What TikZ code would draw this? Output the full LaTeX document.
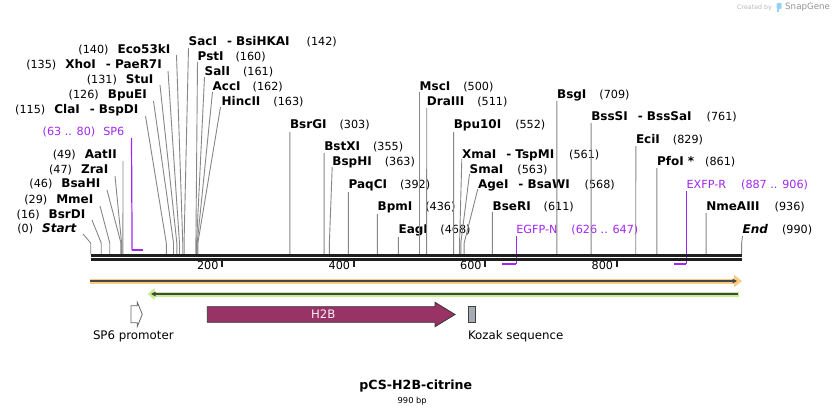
\documentclass[tikz,border=0pt]{standalone}
\usepackage{fontspec}
\setmainfont{DejaVu Sans}
\usetikzlibrary{arrows.meta}
\definecolor{sitegray}{RGB}{135,135,135}
\definecolor{primerpurple}{RGB}{160,40,240}
\definecolor{h2bfill}{RGB}{153,51,102}
\definecolor{orangeband}{RGB}{250,204,130}
\definecolor{greenband}{RGB}{196,240,145}
\definecolor{bandline}{RGB}{70,70,70}
\definecolor{kozakgray}{RGB}{166,171,178}
\definecolor{iconblue}{RGB}{150,210,245}
\newcommand{\enz}[1]{{\fontsize{12}{14}\selectfont\bfseries #1}}

\begin{document}
\begin{tikzpicture}[x=1pt,y=-1pt,
  lab/.style={inner sep=0pt,font=\fontsize{11.2}{13}\selectfont,text height=8.5pt,text depth=2.2pt},
  cut/.style={draw=sitegray,line width=0.9pt},
  primer/.style={draw=primerpurple,line width=1.2pt},
  primerbar/.style={draw=primerpurple,line width=2.2pt},
  featlab/.style={inner sep=0pt,anchor=west,font=\fontsize{11.8}{14}\selectfont}]
\useasboundingbox (0,0) rectangle (834,417);
\fill[white] (0,0) rectangle (834,417);

% cut sites, just above the sequence
\foreach \p in {0,16,29,46,47,49,115,126,131,135,140,142,160,161,162,163,303,355,363,392,436,468,500,511,552,561,563,568,611,709,761,829,861,936,990}
  \coordinate (c\p) at ({90.7+0.6575*\p},243);
\coordinate (p63) at (132.1,250);
\coordinate (p80) at (143.3,250);
\coordinate (p626) at (502.3,264);
\coordinate (p647) at (516.1,264);
\coordinate (p887) at (673.9,264);
\coordinate (p906) at (686.4,264);

% left hand labels
\node[lab,anchor=east] (start) at (76.5,229) {(0)\hspace{9pt}\enz{\itshape Start}};
\node[lab,anchor=east] (bsrdi) at (85.5,215) {(16)\hspace{9pt}\enz{BsrDI}};
\node[lab,anchor=east] (mmei) at (93.5,200) {(29)\hspace{9pt}\enz{MmeI}};
\node[lab,anchor=east] (bsahi) at (100.5,184) {(46)\hspace{9pt}\enz{BsaHI}};
\node[lab,anchor=east] (zrai) at (108.5,170) {(47)\hspace{9pt}\enz{ZraI}};
\node[lab,anchor=east] (aatii) at (117,155) {(49)\hspace{9pt}\enz{AatII}};
\node[lab,anchor=east,text=primerpurple] (sp6) at (124.5,132) {(63 .. 80)\hspace{8pt}SP6};
\node[lab,anchor=east] (clai) at (138.5,110) {(115)\hspace{9pt}\enz{ClaI}\hspace{10pt}\enz{- BspDI}};
\node[lab,anchor=east] (bpuei) at (147,95) {(126)\hspace{9pt}\enz{BpuEI}};
\node[lab,anchor=east] (stui) at (153.5,80) {(131)\hspace{9pt}\enz{StuI}};
\node[lab,anchor=east] (xhoi) at (162,65) {(135)\hspace{9pt}\enz{XhoI}\hspace{10pt}\enz{- PaeR7I}};
\node[lab,anchor=east] (eco53ki) at (170.5,50) {(140)\hspace{9pt}\enz{Eco53kI}};
\draw[cut] ([shift={(6.5pt,-5pt)}]start.east) -- (c0) -- ++(0,11);
\draw[cut] ([shift={(6.5pt,-5pt)}]bsrdi.east) -- (c16) -- ++(0,11);
\draw[cut] ([shift={(6.5pt,-6pt)}]mmei.east) -- (c29) -- ++(0,11);
\draw[cut] ([shift={(6.5pt,-6pt)}]bsahi.east) -- (c46) -- ++(0,11);
\draw[cut] ([shift={(6.5pt,-6pt)}]zrai.east) -- (c47) -- ++(0,11);
\draw[cut] ([shift={(6pt,-6pt)}]aatii.east) -- (c49) -- ++(0,11);
\draw[cut] ([shift={(7pt,-6pt)}]clai.east) -- (c115) -- ++(0,11);
\draw[cut] ([shift={(6.5pt,-6pt)}]bpuei.east) -- (c126) -- ++(0,11);
\draw[cut] ([shift={(6.5pt,-5pt)}]stui.east) -- (c131) -- ++(0,11);
\draw[cut] ([shift={(6pt,-6pt)}]xhoi.east) -- (c135) -- ++(0,11);
\draw[cut] ([shift={(6pt,-5pt)}]eco53ki.east) -- (c140) -- ++(0,11);
\draw[primer] ([shift={(7pt,-6pt)}]sp6.east) -- (p63);
\draw[primerbar] (p63) -- (p80);

% top fan
\node[lab,anchor=west] (saci) at (188.5,42) {\enz{SacI}\hspace{10pt}\enz{- BsiHKAI}\hspace{17pt}(142)};
\node[lab,anchor=west] (psti) at (197.5,57) {\enz{PstI}\hspace{12pt}(160)};
\node[lab,anchor=west] (sali) at (204.5,72) {\enz{SalI}\hspace{13pt}(161)};
\node[lab,anchor=west] (acci) at (212.5,87) {\enz{AccI}\hspace{12pt}(162)};
\node[lab,anchor=west] (hincii) at (221.5,102) {\enz{HincII}\hspace{13pt}(163)};
\draw[cut] ([yshift=-6pt]saci.west) -- (c142) -- ++(0,11);
\draw[cut] ([yshift=-5pt]psti.west) -- (c160) -- ++(0,11);
\draw[cut] ([yshift=-5pt]sali.west) -- (c161) -- ++(0,11);
\draw[cut] ([yshift=-5pt]acci.west) -- (c162) -- ++(0,11);
\draw[cut] ([shift={(-1pt,-5pt)}]hincii.west) -- (c163) -- ++(0,11);

% middle and right labels
\node[lab,anchor=west] (bsrgi) at (289.9,125) {\enz{BsrGI}\hspace{13pt}(303)};
\node[lab,anchor=west] (bstxi) at (324.1,147) {\enz{BstXI}\hspace{13pt}(355)};
\node[lab,anchor=west] (bsphi) at (332.2,162) {\enz{BspHI}\hspace{13pt}(363)};
\node[lab,anchor=west] (paqci) at (348.4,185) {\enz{PaqCI}\hspace{13pt}(392)};
\node[lab,anchor=west] (bpmi) at (377.4,207) {\enz{BpmI}\hspace{13pt}(436)};
\node[lab,anchor=west] (eagi) at (398.4,230) {\enz{EagI}\hspace{12.5pt}(468)};
\node[lab,anchor=west] (msci) at (419.5,87) {\enz{MscI}\hspace{13pt}(500)};
\node[lab,anchor=west] (draiii) at (426.7,102) {\enz{DraIII}\hspace{13pt}(511)};
\node[lab,anchor=west] (bpu10i) at (453.6,125) {\enz{Bpu10I}\hspace{14pt}(552)};
\node[lab,anchor=west] (xmai) at (461.8,155) {\enz{XmaI}\hspace{10pt}\enz{- TspMI}\hspace{15pt}(561)};
\node[lab,anchor=west] (smai) at (469.5,170) {\enz{SmaI}\hspace{14pt}(563)};
\node[lab,anchor=west] (agei) at (477.8,185) {\enz{AgeI}\hspace{10pt}\enz{- BsaWI}\hspace{15pt}(568)};
\node[lab,anchor=west] (bseri) at (492.4,207) {\enz{BseRI}\hspace{13pt}(611)};
\node[lab,anchor=west] (bsgi) at (556.9,95) {\enz{BsgI}\hspace{13pt}(709)};
\node[lab,anchor=west] (bsssi) at (591.1,117) {\enz{BssSI}\hspace{10pt}\enz{- BssSaI}\hspace{15pt}(761)};
\node[lab,anchor=west] (ecii) at (635.8,140) {\enz{EciI}\hspace{13pt}(829)};
\node[lab,anchor=west] (pfoi) at (656.8,162) {\enz{PfoI *}\hspace{11pt}(861)};
\node[lab,anchor=west] (nmeaiii) at (706.1,207) {\enz{NmeAIII}\hspace{15pt}(936)};
\node[lab,anchor=west] (endl) at (742.5,230) {\enz{\itshape End}\hspace{14pt}(990)};
\node[lab,anchor=west,text=primerpurple] (egfpn) at (516.1,230) {EGFP-N\hspace{14pt}(626 .. 647)};
\node[lab,anchor=west,text=primerpurple] (exfpr) at (686.4,185) {EXFP-R\hspace{15pt}(887 .. 906)};
\draw[cut] ([yshift=-7pt]bsrgi.west) -- (c303) -- ++(0,11);
\draw[cut] ([yshift=-6pt]bstxi.west) -- (c355) -- ++(0,11);
\draw[cut] ([yshift=-5pt]bsphi.west) -- (c363) -- ++(0,11);
\draw[cut] ([yshift=-7pt]paqci.west) -- (c392) -- ++(0,11);
\draw[cut] ([yshift=-7pt]bpmi.west) -- (c436) -- ++(0,11);
\draw[cut] ([yshift=-7pt]eagi.west) -- (c468) -- ++(0,11);
\draw[cut] ([yshift=-5pt]msci.west) -- (c500) -- ++(0,11);
\draw[cut] ([yshift=-6pt]draiii.west) -- (c511) -- ++(0,11);
\draw[cut] ([yshift=-7pt]bpu10i.west) -- (c552) -- ++(0,11);
\draw[cut] ([yshift=-4pt]xmai.west) -- (c561) -- ++(0,11);
\draw[cut] ([yshift=-4pt]smai.west) -- (c563) -- ++(0,11);
\draw[cut] ([yshift=-4pt]agei.west) -- (c568) -- ++(0,11);
\draw[cut] ([yshift=-5pt]bseri.west) -- (c611) -- ++(0,11);
\draw[cut] ([yshift=-6pt]bsgi.west) -- (c709) -- ++(0,11);
\draw[cut] ([yshift=-6pt]bsssi.west) -- (c761) -- ++(0,11);
\draw[cut] ([yshift=-6pt]ecii.west) -- (c829) -- ++(0,11);
\draw[cut] ([yshift=-6pt]pfoi.west) -- (c861) -- ++(0,11);
\draw[cut] ([yshift=-6pt]nmeaiii.west) -- (c936) -- ++(0,11);
\draw[cut] ([yshift=-6pt]endl.west) -- (c990) -- ++(0,11);
\draw[primer] ([yshift=-6pt]egfpn.west) -- (p647);
\draw[primerbar] (p647) -- (p626);
\draw[primer] ([yshift=-6pt]exfpr.west) -- (p906);
\draw[primerbar] (p906) -- (p887);

% sequence and ruler
\draw[line width=2.6pt,black!88] (90.7,255.3) -- (741.6,255.3);
\draw[line width=2.3pt,black!88] (90.7,259.5) -- (741.6,259.5);
\foreach \t in {200,400,600,800} {
  \draw[line width=2pt,black!88] ({90.7+0.6575*\t},260) -- ++(0,7.3);
  \node[lab,anchor=east] (tick\t) at ({90.7+0.6575*\t-3.5},266.5) {\t};
}

% strand bands
\draw[line width=5pt,draw=orangeband,-{Triangle[width=12pt,length=8pt]}] (90,281) -- (742,281);
\draw[line width=1.3pt,draw=bandline,-{Triangle[width=4.5pt,length=4.5pt]}] (90,281) -- (737,281);
\draw[line width=5pt,draw=greenband,{Triangle[width=12pt,length=7pt]}-] (147.7,294) -- (739,294);
\draw[line width=1.3pt,draw=bandline,{Triangle[width=4.5pt,length=4.5pt]}-] (151,294) -- (737.5,294);

% features
\draw[draw=black!60,fill=white,line width=0.8pt] (131,305.8) -- (137.3,305.8) -- (137.3,302.3) -- (142.3,314.3) -- (137.3,326.5) -- (137.3,322.7) -- (131,322.7) -- cycle;
\draw[draw=black!80,fill=h2bfill,line width=0.8pt] (207.3,306.7) -- (435,306.7) -- (435,302.3) -- (455,314.5) -- (435,326.7) -- (435,322.3) -- (207.3,322.3) -- cycle;
\node[inner sep=0pt,text=white!92!h2bfill,font=\fontsize{11.7}{14}\selectfont] (h2b) at (323.3,313.8) {H2B};
\draw[draw=black!75,fill=kozakgray,line width=0.8pt] (468.3,306) rectangle (475.7,322.3);
\node[featlab] (sp6prom) at (92.8,336) {SP6 promoter};
\node[featlab] (kozak) at (467.8,336) {Kozak sequence};

% title
\node[inner sep=0pt,font=\fontsize{12.6}{15}\selectfont\bfseries] (title) at (415.8,386) {pCS-H2B-citrine};
\node[inner sep=0pt,font=\fontsize{8.3}{10}\selectfont] (size) at (412.2,401.7) {990 bp};

% watermark
\node[inner sep=0pt,anchor=west,text=black!28,font=\fontsize{6.3}{8}\selectfont] (madeby) at (737,7.3) {Created by};
\fill[iconblue,rounded corners=1pt] (776.7,2.8) rectangle (781.7,8.8);
\fill[iconblue] (776.7,6) rectangle (778.9,12.5);
\node[inner sep=0pt,anchor=west,text=black!42,font=\fontsize{8.7}{10}\selectfont] (snapgene) at (785,7.3) {SnapGene};
\end{tikzpicture}
\end{document}
